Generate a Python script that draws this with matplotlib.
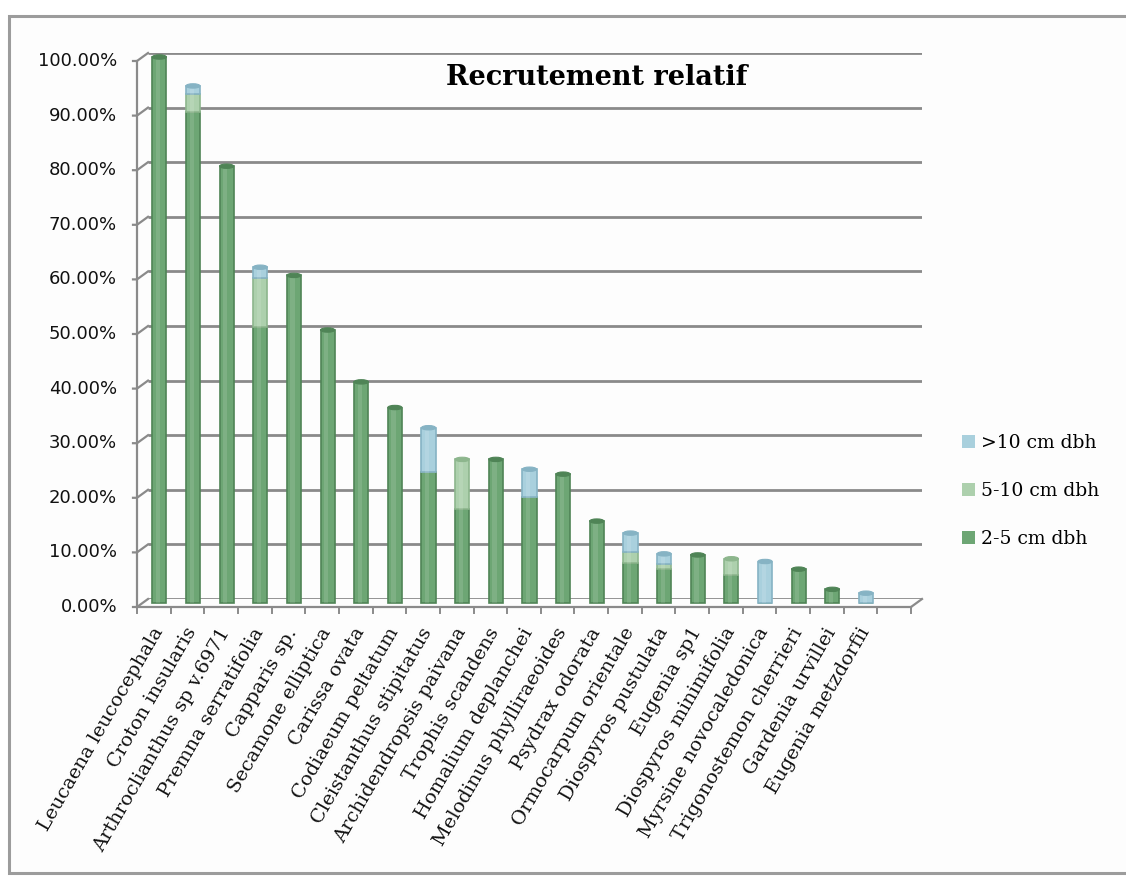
import matplotlib
matplotlib.use("Agg")
import matplotlib.pyplot as plt
import numpy as np
from matplotlib.lines import Line2D
from matplotlib.patches import Rectangle, Ellipse, Patch
from matplotlib.transforms import offset_copy, IdentityTransform

# ---------- Data (relative recruitment, %) ----------
species = ["Leucaena leucocephala", "Croton insularis", "Arthroclianthus sp v.6971",
           "Premna serratifolia", "Capparis sp.", "Secamone elliptica", "Carissa ovata",
           "Codiaeum peltatum", "Cleistanthus stipitatus", "Archidendropsis paivana",
           "Trophis scandens", "Homalium deplanchei", "Melodinus phylliraeoides",
           "Psydrax odorata", "Ormocarpum orientale", "Diospyros pustulata",
           "Eugenia sp1", "Diospyros minimifolia", "Myrsine novocaledonica",
           "Trigonostemon cherrieri", "Gardenia urvillei", "Eugenia metzdorfii"]
dbh_2_5 = [100, 90, 80, 50.5, 60, 50, 40.5, 35.8, 24, 17.3, 26.3, 19.5, 23.6,
           15.0, 7.3, 6.2, 8.8, 5.1, 0, 6.2, 2.5, 0]
dbh_5_10 = [0, 3.2, 0, 9, 0, 0, 0, 0, 0, 9, 0, 0, 0,
            0, 2.1, 1.0, 0, 3.0, 0, 0, 0, 0]
dbh_10 = [0, 1.5, 0, 2, 0, 0, 0, 0, 8.1, 0, 0, 5, 0,
          0, 3.4, 1.8, 0, 0, 7.6, 0, 0, 1.8]
series_labels = ["2-5 cm dbh", "5-10 cm dbh", ">10 cm dbh"]
yticks = np.arange(0, 101, 10)

colors = ["#6da674", "#add0ad", "#a9d0dd"]
edge_colors = ["#4f8456", "#8db68d", "#86b3c4"]
grid_color = "#8a8a8a"

W, H = 1126, 876
fig = plt.figure(figsize=(W / 100, H / 100), dpi=100)
fig.patch.set_facecolor("white")

# chart frame
fig.add_artist(Rectangle((9 / W, 1 - 873 / H), 1.2, (873 - 16) / H,
                         transform=fig.transFigure, facecolor="#fdfdfd",
                         edgecolor="#9c9c9c", linewidth=2.2, zorder=0))

# back wall of the 3D plot area
ax = fig.add_axes([148 / W, 1 - 599 / H, 774 / W, 546 / H])
ax.set_xlim(0, len(species) + 1)
ax.set_ylim(0, 100)
ax.axis("off")
ax.patch.set_visible(False)

DX, DY = -11, -8  # depth offset (pixels) from back wall to front plane
front = offset_copy(ax.transData, fig=fig, x=DX, y=DY, units="dots")
mid = offset_copy(ax.transData, fig=fig, x=DX / 2, y=DY / 2, units="dots")
nslots = len(species) + 1

# gridlines on back wall + left wall diagonals
ax.hlines(yticks, 0, nslots, color=grid_color, linewidth=2, zorder=1)
for v in yticks:
    bx, by = ax.transData.transform((0, v))
    fig.add_artist(Line2D([bx, bx + DX, bx + DX - 4], [by, by + DY, by + DY],
                          transform=IdentityTransform(), color=grid_color, lw=1.6))
    ax.text(0, v, f"{v:.2f}%", transform=offset_copy(ax.transData, fig=fig, x=DX - 20, y=DY, units="dots"),
            ha="right", va="center", fontsize=13, family="DejaVu Sans", color="#111111")

# left axis line (front)
ax.plot([0, 0], [0, 100], transform=front, color=grid_color, lw=1.6, clip_on=False)

# floor: front edge, ticks, right edge
ax.plot([0, nslots], [0, 0], transform=front, color=grid_color, lw=1.6, clip_on=False)
for k in range(nslots + 1):
    x0, y0 = front.transform((k, 0))
    fig.add_artist(Line2D([x0, x0], [y0, y0 - 6], transform=IdentityTransform(),
                          color=grid_color, lw=1.4))
bx, by = ax.transData.transform((nslots, 0))
fig.add_artist(Line2D([bx, bx + DX], [by, by + DY], transform=IdentityTransform(),
                      color=grid_color, lw=1.6))

# stacked cylinder-like bars
x = np.arange(len(species)) + 0.5
bw = 0.42
bottom = np.zeros(len(species))
stack = [dbh_2_5, dbh_5_10, dbh_10]
for vals, c, ec in zip(stack, colors, edge_colors):
    vals = np.array(vals, dtype=float)
    ax.bar(x, vals, bw, bottom=bottom, color=c, edgecolor=ec, linewidth=1.2,
           transform=mid, zorder=3, clip_on=False)
    # lighter centre stripe
    ax.bar(x - 0.04, vals, bw * 0.3, bottom=bottom, color="white", alpha=0.12,
           linewidth=0, transform=mid, zorder=4, clip_on=False)
    bottom += vals

# top caps
for xi, (a, b, c) in zip(x, zip(*stack)):
    top = a + b + c
    ci = 2 if c > 0 else (1 if b > 0 else 0)
    ax.add_patch(Ellipse((xi, top), bw, 0.8, transform=mid, facecolor=edge_colors[ci],
                         edgecolor=edge_colors[ci], lw=0.8, zorder=5, clip_on=False))

# category labels
for xi, name in zip(x, species):
    fx, fy = front.transform((xi, 0))
    ax.text(fx + 5, fy - 22, name, transform=IdentityTransform(), rotation=60,
            rotation_mode="anchor", ha="right", va="center", fontsize=14,
            family="DejaVu Serif", color="#111111")

ax.text(0.58, 0.955, "Recrutement relatif", transform=ax.transAxes, ha="center",
        va="center", fontsize=19.5, fontweight="bold", family="DejaVu Serif")

handles = [Patch(facecolor=c, edgecolor="none") for c in colors]
fig.legend(handles[::-1], series_labels[::-1], loc="center left",
           bbox_to_anchor=(945 / W, 1 - 491 / H), frameon=False,
           prop={"family": "DejaVu Serif", "size": 13.5}, handlelength=0.7,
           handleheight=0.7, handletextpad=0.3, labelspacing=1.6)

fig.savefig("out.png", dpi=100)
